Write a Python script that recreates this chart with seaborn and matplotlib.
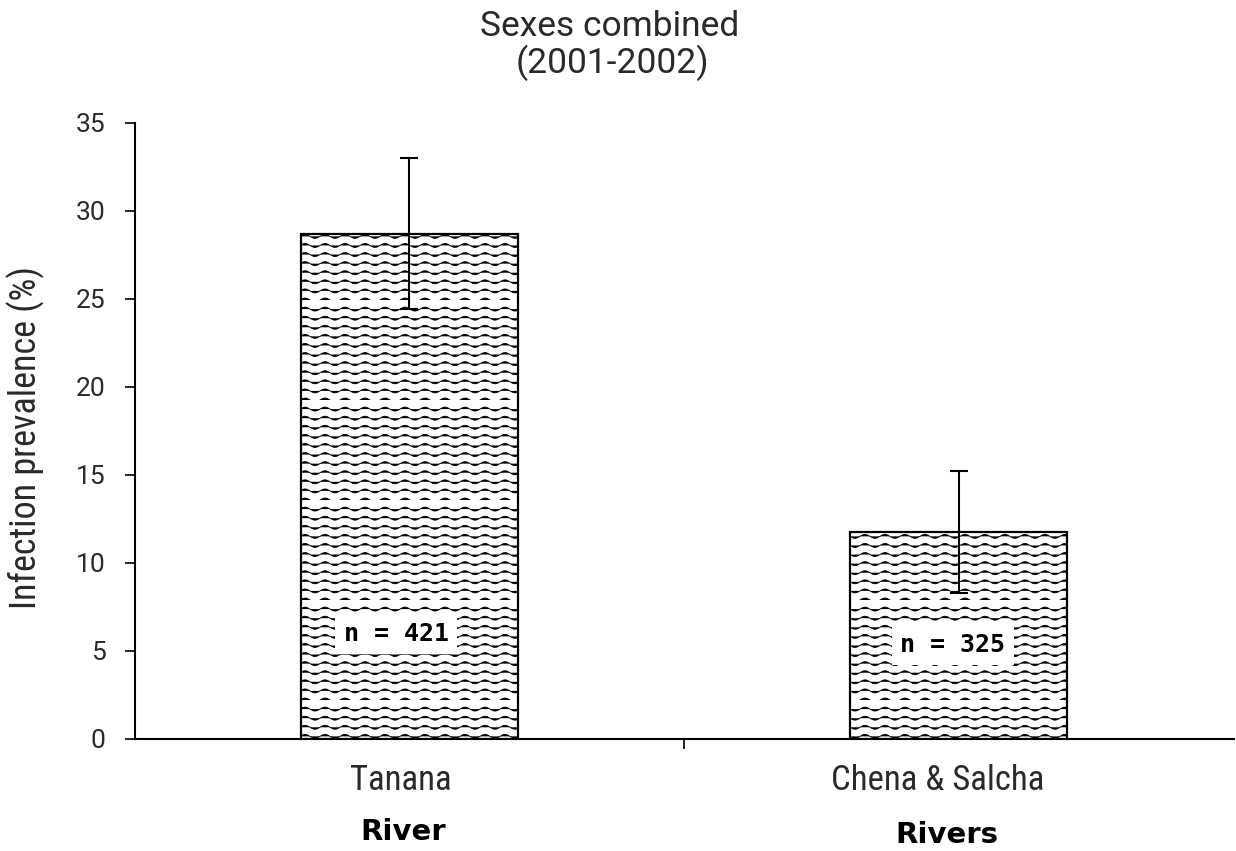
import warnings
warnings.filterwarnings("ignore")
import numpy as np
import pandas as pd
import matplotlib
matplotlib.use("Agg")
import matplotlib.pyplot as plt
import matplotlib.hatch as mhatch
from matplotlib.path import Path
import matplotlib.transforms as mtransforms
import seaborn as sns

# ---- data ----
categories = ["Tanana", "Chena & Salcha"]
category_sub = ["River", "Rivers"]
prevalence = [28.7, 11.75]
error = [4.3, 3.45]
n_labels = ["n = 421", "n = 325"]
n_label_y = [5.97, 5.34]
yticks = [0, 5, 10, 15, 20, 25, 30, 35]


# ---- custom wavy hatch ----
class WaveHatch(mhatch.HatchPatternBase):
    PTS = 61

    def __init__(self, hatch, density):
        self.num_lines = int(hatch.count('~') * 11)
        self.num_vertices = self.num_lines * self.PTS

    def set_vertices_and_codes(self, vertices, codes):
        rows = np.linspace(0.0, 1.0, self.num_lines, endpoint=False)
        x = np.linspace(0.0, 1.0, self.PTS)
        for i, r in enumerate(rows):
            sl = slice(i * self.PTS, (i + 1) * self.PTS)
            vertices[sl, 0] = x
            vertices[sl, 1] = r + 0.02 * np.sin(2 * np.pi * 5 * x)
            codes[sl] = Path.LINETO
            codes[i * self.PTS] = Path.MOVETO


mhatch._hatch_types.append(WaveHatch)

sns.set_theme(style="white")
plt.rcParams['font.family'] = ['Roboto', 'DejaVu Sans']
plt.rcParams['hatch.linewidth'] = 0.6
plt.rcParams['hatch.color'] = '#555555'

COND = ['Roboto Condensed', 'Liberation Sans Narrow', 'DejaVu Sans']
TXT = '#2a2a2a'

fig = plt.figure(figsize=(12.36, 8.51), dpi=100)
ax = fig.add_axes([0.109, 0.132, 0.889, 0.7235])

df = pd.DataFrame({"river": categories, "prev": prevalence})
sns.barplot(data=df, x="river", y="prev", ax=ax, color="white",
            edgecolor="black", linewidth=1.6, width=0.395, errorbar=None)
for p in ax.patches:
    p.set_hatch('~')
    p.set_facecolor('white')
    p.set_edgecolor('black')

ax.errorbar(x=np.arange(len(categories)), y=prevalence, yerr=error,
            fmt='none', ecolor='black', elinewidth=1.5, capsize=6.5,
            capthick=1.5, zorder=5)

n_dx = [-0.024, -0.011]
for i, (lab, ly) in enumerate(zip(n_labels, n_label_y)):
    ax.text(i + n_dx[i], ly, lab, ha='center', va='center', fontsize=18,
            fontweight='bold', family='DejaVu Sans Mono', zorder=6, color='black',
            bbox=dict(facecolor='white', edgecolor='none', pad=6))

ax.set_xlim(-0.5, 1.5)
ax.set_ylim(0, 35)
ax.set_yticks(yticks)
ax.set_yticklabels([str(t) for t in yticks], fontsize=19, color=TXT)
ax.set_xticks([0.5])
ax.set_xticklabels([''])
ax.tick_params(axis='x', direction='out', length=7, width=1.2, colors='black', bottom=True)
ax.tick_params(axis='y', direction='out', length=7, width=1.2, colors='black', left=True, pad=14, labelcolor=TXT)
ax.set_ylabel("Infection prevalence (%)", fontsize=26, color=TXT, family=COND)
ax.yaxis.set_label_coords(-0.082, 0.489)
ax.set_xlabel("")

for s in ['top', 'right']:
    ax.spines[s].set_visible(False)
for s in ['left', 'bottom']:
    ax.spines[s].set_linewidth(1.5)
    ax.spines[s].set_color('black')

trans = mtransforms.blended_transform_factory(ax.transData, fig.transFigure)
cat_dx = [-0.015, -0.038]
sub_dx = [-0.011, -0.022]
sub_y = [832, 835]
for i, (c, sub) in enumerate(zip(categories, category_sub)):
    ax.text(i + cat_dx[i], 1 - 780 / 851, c, transform=trans, ha='center', va='center',
            fontsize=25, family=COND, color=TXT)
    ax.text(i + sub_dx[i], 1 - sub_y[i] / 851, sub, transform=trans,
            ha='center', va='center', fontsize=21, fontweight='bold',
            family='DejaVu Sans', color='black')

fig.text(0.493, 1 - 27 / 851, "Sexes combined", ha='center', va='center', fontsize=25.5, color=TXT)
fig.text(0.4955, 1 - 63 / 851, "(2001-2002)", ha='center', va='center', fontsize=25.5, color=TXT)

fig.savefig("out.png", dpi=100, facecolor='white')
